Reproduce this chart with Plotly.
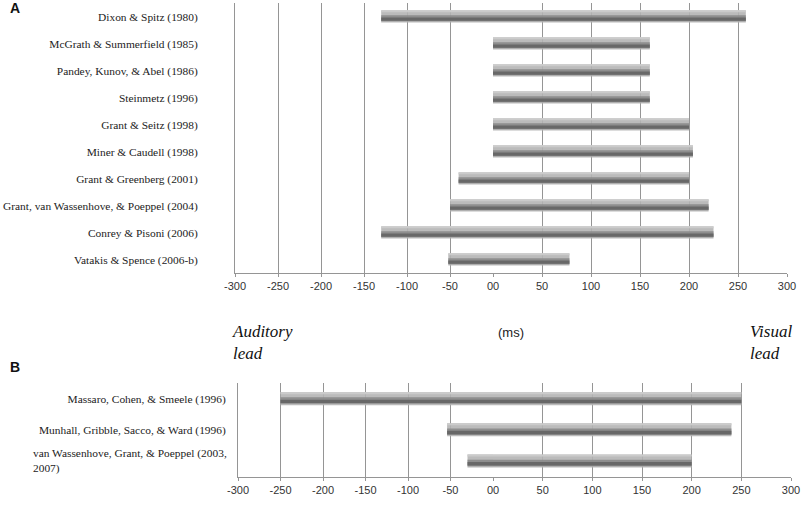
import plotly.graph_objects as go

# ---------------- data ----------------
studies_A = ["Dixon & Spitz (1980)", "McGrath & Summerfield (1985)",
             "Pandey, Kunov, & Abel (1986)", "Steinmetz (1996)",
             "Grant & Seitz (1998)", "Miner & Caudell (1998)",
             "Grant & Greenberg (2001)", "Grant, van Wassenhove, & Poeppel (2004)",
             "Conrey & Pisoni (2006)", "Vatakis & Spence (2006-b)"]
start_A = [-130, 0, 0, 0, 0, 0, -40, -50, -130, -52]
end_A = [258, 160, 160, 160, 200, 204, 200, 220, 225, 78]

studies_B = ["Massaro, Cohen, & Smeele (1996)",
             "Munhall, Gribble, Sacco, & Ward (1996)",
             "van Wassenhove, Grant, & Poeppel (2003, 2007)"]
start_B = [-250, -54, -30]
end_B = [250, 240, 200]

neg_ticks = [-300, -250, -200, -150, -100, -50]
neg_labels = ["-300", "-250", "-200", "-150", "-100", "-50"]
pos_ticks = [0, 50, 100, 150, 200, 250, 300]
pos_labels = ["00", "50", "100", "150", "200", "250", "300"]

# ---------------- layout helpers ----------------
W, H = 804, 516
def px(x):
    return x / W
def py(y):
    return 1 - y / H

GRID = "#959595"
SERIF = "Liberation Serif"
SANS = "Liberation Sans"
LABEL_SIZE = 11.4

# overlapping shading layers (fraction of thickness from top, colour, opacity)
layers = [(0.00, 1.00, "#b4b4b4", 0.9),
          (0.00, 0.16, "#cdcdcd", 0.9),
          (0.40, 0.90, "#8a8a8a", 0.9),
          (0.58, 0.84, "#646464", 0.9)]

fig = go.Figure()

def add_bars(cats, starts, ends, xneg, xpos, yax, thick):
    for f0, f1, col, op in layers:
        off = -thick / 2 + f0 * thick
        wid = (f1 - f0) * thick
        fig.add_trace(go.Bar(
            y=cats, x=[min(e, 0) - min(s, 0) for s, e in zip(starts, ends)],
            base=[min(s, 0) for s in starts], orientation="h",
            xaxis=xneg, yaxis=yax, width=wid, offset=off,
            marker=dict(color=col, line=dict(width=0)), opacity=op,
            showlegend=False, hoverinfo="skip"))
        fig.add_trace(go.Bar(
            y=cats, x=[max(e, 0) - max(s, 0) for s, e in zip(starts, ends)],
            base=[max(s, 0) for s in starts], orientation="h",
            xaxis=xpos, yaxis=yax, width=wid, offset=off,
            marker=dict(color=col, line=dict(width=0)), opacity=op,
            showlegend=False, hoverinfo="skip"))

add_bars(studies_A, start_A, end_A, "x", "x2", "y", 0.45)
add_bars(studies_B, start_B, end_B, "x3", "x4", "y2", 0.42)

def xax(dom, rng, tv, tt, anchor):
    return dict(domain=dom, range=rng, anchor=anchor, tickvals=tv, ticktext=tt,
                showgrid=True, gridcolor=GRID, gridwidth=1, zeroline=False,
                showline=True, linecolor=GRID, linewidth=1,
                ticks="outside", ticklen=3, tickcolor=GRID,
                tickfont=dict(family=SANS, size=11, color="#333333"),
                automargin=False, fixedrange=True)

def edge_axis(overlay, anchor):
    return dict(overlaying=overlay, anchor=anchor, side="right", showline=True,
                linecolor=GRID, showgrid=False, zeroline=False,
                showticklabels=False, ticks="", fixedrange=True)

fig.update_layout(
    width=W, height=H, margin=dict(l=0, r=0, t=0, b=0),
    plot_bgcolor="white", paper_bgcolor="white", barmode="overlay",
    xaxis=xax([px(235), px(493)], [-300, 0], neg_ticks, neg_labels, "y"),
    xaxis2=xax([px(493), px(787)], [0, 300], pos_ticks, pos_labels, "y"),
    xaxis3=xax([px(238), px(493)], [-300, 0], neg_ticks, neg_labels, "y2"),
    xaxis4=xax([px(493), px(791)], [0, 300], pos_ticks, pos_labels, "y2"),
    yaxis=dict(domain=[py(273), py(3)], anchor="x", type="category",
               categoryorder="array", categoryarray=studies_A,
               autorange="reversed", showgrid=False, zeroline=False,
               showline=True, linecolor=GRID, ticks="", ticklabelstandoff=34,
               tickfont=dict(family=SERIF, size=LABEL_SIZE, color="#222222"),
               automargin=False, fixedrange=True),
    yaxis2=dict(domain=[py(477), py(383)], anchor="x3", type="category",
                categoryorder="array", categoryarray=studies_B,
                tickvals=studies_B, ticktext=[studies_B[0], studies_B[1], ""],
                autorange="reversed", showgrid=False, zeroline=False,
                showline=True, linecolor=GRID, ticks="", ticklabelstandoff=9,
                tickfont=dict(family=SERIF, size=LABEL_SIZE, color="#222222"),
                automargin=False, fixedrange=True),
    yaxis3=edge_axis("y", "x2"),
    yaxis4=edge_axis("y2", "x4"),
)

ann = []
ann.append(dict(xref="paper", yref="y2", x=px(229), y=studies_B[2],
                xanchor="right", yanchor="middle", align="left", showarrow=False,
                text="van Wassenhove, Grant, &amp; Poeppel (2003,<br>2007)",
                font=dict(family=SERIF, size=LABEL_SIZE, color="#222222")))
ann.append(dict(xref="paper", yref="paper", x=px(8), y=py(8), xanchor="left",
                yanchor="middle", showarrow=False, text="<b>A</b>",
                font=dict(family=SANS, size=14, color="#111111")))
ann.append(dict(xref="paper", yref="paper", x=px(8), y=py(367), xanchor="left",
                yanchor="middle", showarrow=False, text="<b>B</b>",
                font=dict(family=SANS, size=14, color="#111111")))
ann.append(dict(xref="paper", yref="paper", x=px(230), y=py(342), xanchor="left",
                yanchor="middle", align="left", showarrow=False,
                text="<i>Auditory<br>lead</i>",
                font=dict(family=SERIF, size=17, color="#111111")))
ann.append(dict(xref="paper", yref="paper", x=px(748), y=py(342), xanchor="left",
                yanchor="middle", align="left", showarrow=False,
                text="<i>Visual<br>lead</i>",
                font=dict(family=SERIF, size=17, color="#111111")))
ann.append(dict(xref="paper", yref="paper", x=px(511), y=py(332), xanchor="center",
                yanchor="middle", showarrow=False, text="(ms)",
                font=dict(family=SANS, size=13, color="#222222")))
fig.update_layout(annotations=ann)

fig.write_html("out.html", config={"displayModeBar": False})

# remove the default page margin so the figure sits at the window's top-left
with open("out.html", "r", encoding="utf-8") as f:
    html = f.read()
html = html.replace("<head>", "<head><style>html,body{margin:0;padding:0;overflow:hidden;}</style>", 1)
with open("out.html", "w", encoding="utf-8") as f:
    f.write(html)
